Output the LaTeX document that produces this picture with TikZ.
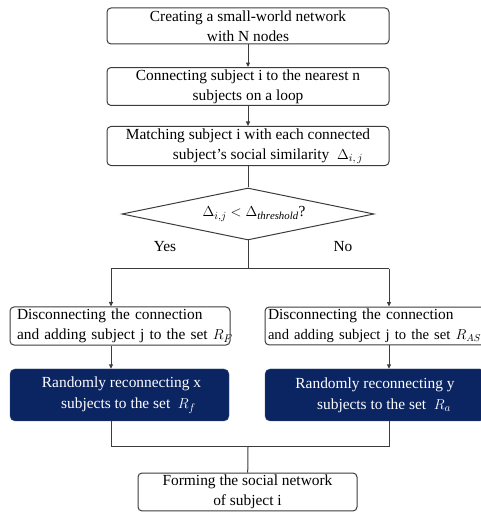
\documentclass[tikz,border=0pt]{standalone}
\usepackage{fontspec}
\setmainfont{Liberation Serif}
\usepackage{amsmath}
\usepackage{tikz}
\usetikzlibrary{shapes.geometric, arrows.meta, positioning}
\definecolor{navybox}{HTML}{0B2462}
\definecolor{linegray}{HTML}{3C3C3C}
\tikzset{
    stepbox/.style={draw=linegray, line width=1pt, rounded corners=4pt, minimum height=36pt, inner sep=2pt, align=center, font=\fontsize{15.4}{20}\selectfont},
    sidebox/.style={stepbox, text width=206pt, inner xsep=7pt, align=left},
    darkbox/.style={draw=navybox!80, fill=navybox, text=white, rounded corners=5pt, minimum width=220pt, minimum height=52pt, align=center, font=\fontsize{15.4}{21}\selectfont},
    decide/.style={draw=linegray, line width=1pt, diamond, aspect=4.85, minimum width=252pt, minimum height=52pt, inner sep=0pt, font=\fontsize{15.4}{19}\selectfont},
    flow/.style={draw=linegray, line width=1pt},
    flowarr/.style={flow, -{Triangle[length=4.5pt,width=4pt]}},
}
\begin{document}
\begin{tikzpicture}[x=1pt, y=1pt]
                 \useasboundingbox (0,0) rectangle (481,514);
                 \node[stepbox, minimum width=282pt] (create) at (248,488) {Creating a small-world network\\with N nodes};
                 \node[stepbox, minimum width=282pt, minimum height=35pt] (connect) at (248,427.5) {Connecting subject i to the nearest n\\subjects on a loop};
                 \node[stepbox, minimum width=282pt] (match) at (248,368) {Matching subject i with each connected\\\hspace*{2.6em}subject's social similarity\ \ $\Delta_{i,\,j}$};
                 \node[decide] (test) at (248,300) {\hspace*{12pt}$\Delta_{i,j} < \Delta_{\mathit{threshold}}$?};
                 \node[font=\fontsize{15.4}{19}\selectfont] (yes) at (165,267) {Yes};
                 \node[font=\fontsize{15.4}{19}\selectfont] (no) at (343,267) {No};
                 \node[sidebox] (discF) at (120,188) {Disconnecting the connection\\\mbox{and adding subject j to the set $R_F$}};
                 \node[sidebox, inner xsep=3pt, text width=214pt] (discAS) at (375,188) {Disconnecting the connection\\\mbox{\fontsize{14.6}{20}\selectfont and adding subject j to the set $R_{AS}$}};
                 \node[darkbox, minimum width=219pt] (reF) at (119.5,119) {\hspace*{4pt}Randomly reconnecting x\\\hspace*{18pt}subjects to the set\ \ $R_f$};
                 \node[darkbox] (reA) at (375,119) {Randomly reconnecting y\\\hspace*{18pt}subjects to the set\ \ $R_a$};
                 \node[stepbox, minimum width=219pt] (form) at (247.5,22) {Forming the social network\\of subject i};
                 \coordinate (split) at (248,245.3);
                 \coordinate (splitL) at (111,245.3);
                 \coordinate (splitR) at (389,245.3);
                 \coordinate (joinL) at (111,67);
                 \coordinate (joinR) at (389,67);
                 \coordinate (join) at (248,67);
                 \draw[flowarr] (create) -- (connect);
                 \draw[flowarr] (connect) -- (match);
                 \draw[flow] (match) -- (test);
                 \draw[flow] (test.south) -- (split);
                 \draw[flow] (splitL) -- (splitR);
                 \draw[flowarr] (splitL) -- (splitL |- discF.north);
                 \draw[flowarr] (splitR) -- (splitR |- discAS.north);
                 \draw[flowarr] (splitL |- discF.south) -- (splitL |- reF.north);
                 \draw[flowarr] (splitR |- discAS.south) -- (splitR |- reA.north);
                 \draw[flow] (joinL |- reF.south) -- (joinL) -- (joinR) -- (joinR |- reA.south);
                 \draw[flow] (join) -- (form);
             \end{tikzpicture}
\end{document}
